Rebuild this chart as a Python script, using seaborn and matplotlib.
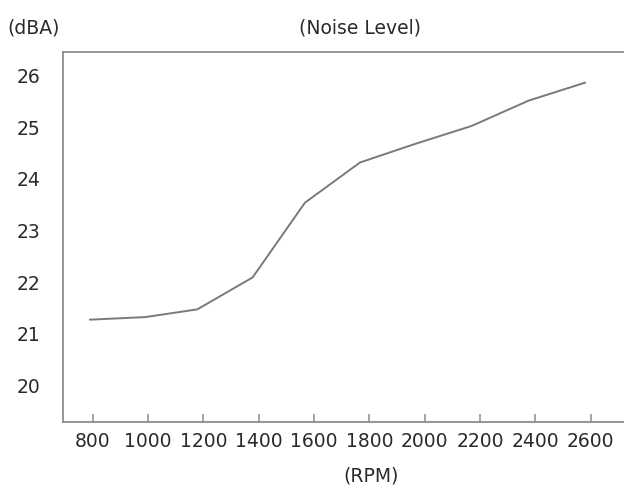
import matplotlib
matplotlib.use("Agg")
import matplotlib.pyplot as plt
import seaborn as sns
import pandas as pd

rpm = [790, 990, 1178, 1378, 1567, 1766, 1965, 2170, 2375, 2580]
noise_dba = [21.25, 21.30, 21.45, 22.07, 23.52, 24.30, 24.66, 25.01, 25.50, 25.85]
x_ticks = [800, 1000, 1200, 1400, 1600, 1800, 2000, 2200, 2400, 2600]
y_ticks = [20, 21, 22, 23, 24, 25, 26]

sns.set_style("white")
plt.rcParams['font.family'] = ['DejaVu Sans']

df = pd.DataFrame({"RPM": rpm, "dBA": noise_dba})

fig = plt.figure(figsize=(6.24, 4.89), dpi=100)
ax = fig.add_axes([63/624, (489-422.7)/489, (640-63)/624, (422.7-52.7)/489])
sns.lineplot(data=df, x="RPM", y="dBA", ax=ax, color="#7a7a7a", linewidth=1.4)

ax.set_xlim(692.6, 2778)
ax.set_ylim(19.27, 26.45)
ax.set_xticks(x_ticks)
ax.set_xticklabels([str(v) for v in x_ticks])
ax.set_yticks(y_ticks)
ax.set_yticklabels([str(v) for v in y_ticks])
ax.set_xlabel("")
ax.set_ylabel("")

for s in ["left", "bottom", "top"]:
    ax.spines[s].set_color("#8c8c8c")
    ax.spines[s].set_linewidth(1.3)
ax.spines["right"].set_visible(False)

ax.tick_params(axis="x", bottom=True, direction="in", length=6, width=1.1, color="#8c8c8c",
               labelsize=13.5, labelcolor="#2a2a2a", pad=7)
ax.tick_params(axis="y", left=False, length=0, labelsize=13.5, labelcolor="#2a2a2a", pad=16)

fig.text(7/624, 1 - 28/489, "(dBA)", fontsize=13.5, color="#2a2a2a", ha="left", va="center")
fig.text(360/624, 1 - 28/489, "(Noise Level)", fontsize=13.5, color="#2a2a2a", ha="center", va="center")
fig.text(371/624, 1 - 476/489, "(RPM)", fontsize=13.5, color="#2a2a2a", ha="center", va="center")

fig.savefig("out.png", dpi=100)
